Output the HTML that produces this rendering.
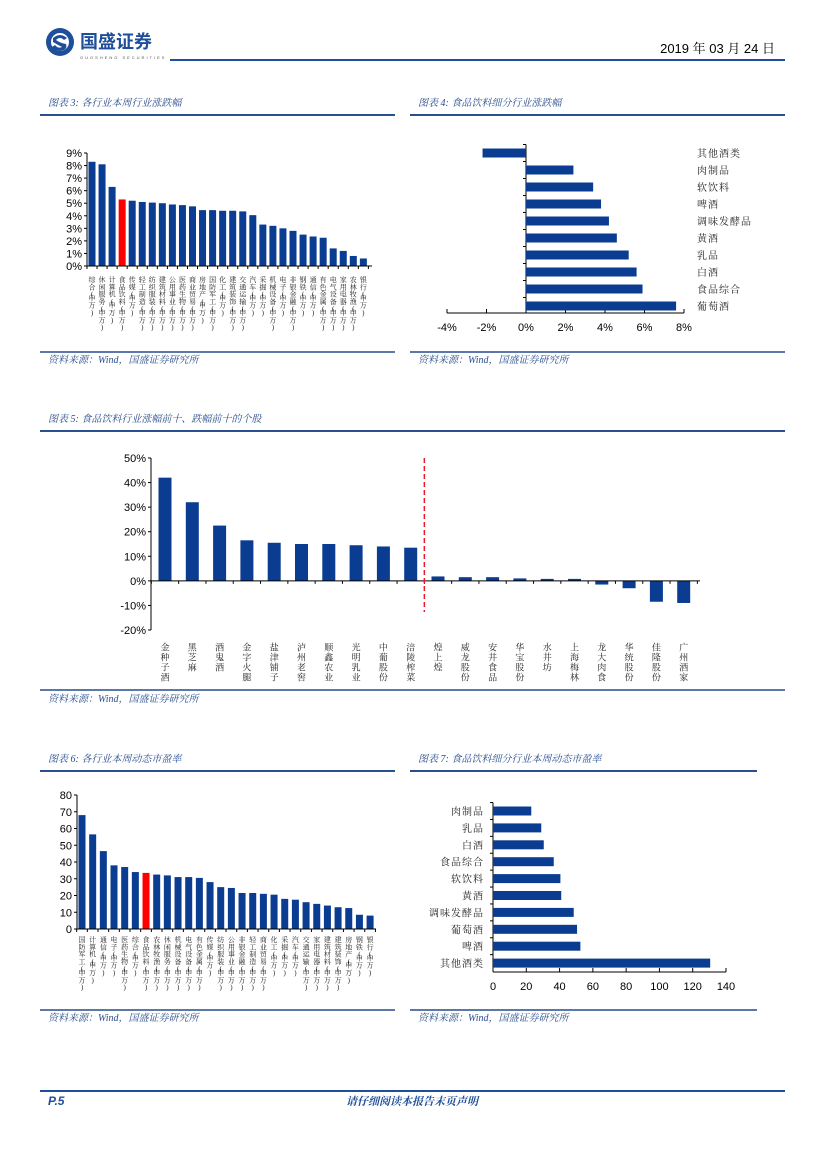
<!DOCTYPE html>
<html><head><meta charset="utf-8">
<style>
html,body{margin:0;padding:0;background:#fff;}
svg{display:block;font-family:"Liberation Sans","Noto Sans CJK SC",sans-serif;}
.cap{font-family:"Liberation Serif","Noto Serif CJK SC",serif;font-style:italic;fill:#2a4f8f;font-size:10px;}
.tick{font-size:11px;fill:#000;}
.cat{font-family:"Liberation Serif","Noto Serif CJK SC",serif;fill:#222;}
</style></head>
<body>
<svg id="page" width="827" height="1169" viewBox="0 0 827 1169" xmlns="http://www.w3.org/2000/svg">
  <g>
    <g>
      <circle cx="60" cy="42" r="14" fill="#1f4e9a"/>
      <circle cx="60" cy="42" r="9" fill="#fff"/>
      <path d="M53 38 Q60 32 67 38 L64 40 Q60 36 56 40 Q60 43 66 44 Q68 50 60 51 Q54 51 52 47 L55 45 Q58 49 62 47 Q58 45 53 42 Z" fill="#1f4e9a"/>
      <text x="80" y="48" font-size="18" font-weight="bold" fill="#1f4e9a" font-family="'Noto Sans CJK SC',sans-serif">国盛证券</text>
      <text x="80" y="59" font-size="4" fill="#555" letter-spacing="2">GUOSHENG SECURITIES</text>
    </g>
    <text x="775" y="53" text-anchor="end" font-size="13" fill="#000" font-family="'Liberation Sans','Noto Serif CJK SC',serif">2019 年 03 月 24 日</text>
    <rect x="170" y="59" width="615" height="2" fill="#1f4e9a"/>
  </g>

  <g>
    <text class="cap" x="48" y="106">图表 3:  各行业本周行业涨跌幅</text>
    <rect x="40" y="114" width="355" height="2" fill="#2a4f8f"/>
    <text class="cap" x="418" y="106">图表 4:  食品饮料细分行业涨跌幅</text>
    <rect x="410" y="114" width="375" height="2" fill="#2a4f8f"/>
    <rect x="40" y="351" width="355" height="2" fill="#5b78a6"/>
    <text class="cap" x="48" y="363">资料来源：Wind，国盛证券研究所</text>
    <rect x="410" y="351" width="375" height="2" fill="#5b78a6"/>
    <text class="cap" x="418" y="363">资料来源：Wind，国盛证券研究所</text>

    <text class="cap" x="48" y="422">图表 5:  食品饮料行业涨幅前十、跌幅前十的个股</text>
    <rect x="40" y="430" width="745" height="2" fill="#2a4f8f"/>
    <rect x="40" y="689" width="745" height="2" fill="#5b78a6"/>
    <text class="cap" x="48" y="702">资料来源：Wind，国盛证券研究所</text>

    <text class="cap" x="48" y="762">图表 6:  各行业本周动态市盈率</text>
    <rect x="40" y="770" width="355" height="2" fill="#2a4f8f"/>
    <text class="cap" x="418" y="762">图表 7:  食品饮料细分行业本周动态市盈率</text>
    <rect x="410" y="770" width="347" height="2" fill="#2a4f8f"/>
    <rect x="40" y="1009" width="355" height="2" fill="#5b78a6"/>
    <text class="cap" x="48" y="1021">资料来源：Wind，国盛证券研究所</text>
    <rect x="410" y="1009" width="347" height="2" fill="#5b78a6"/>
    <text class="cap" x="418" y="1021">资料来源：Wind，国盛证券研究所</text>
  </g>

  <g>
    <rect x="40" y="1090" width="745" height="2" fill="#1f4e9a"/>
    <text x="48" y="1105" font-size="12" font-weight="bold" font-style="italic" fill="#1f4e9a">P.5</text>
    <text x="412" y="1105" text-anchor="middle" font-size="11" font-weight="bold" font-style="italic" fill="#1f4e9a" font-family="'Noto Serif CJK SC',serif">请仔细阅读本报告末页声明</text>
  </g>

  <g id="c3"></g>
  <g id="c4"></g>
  <g id="c5"></g>
  <g id="c6"></g>
  <g id="c7"></g>
</svg>
<script>
// Chart 3 data
const c3Cats = ["综合(申万)","休闲服务(申万)","计算机(申万)","食品饮料(申万)","传媒(申万)","轻工制造(申万)","纺织服装(申万)","建筑材料(申万)","公用事业(申万)","医药生物(申万)","商业贸易(申万)","房地产(申万)","国防军工(申万)","化工(申万)","建筑装饰(申万)","交通运输(申万)","汽车(申万)","采掘(申万)","机械设备(申万)","电子(申万)","非银金融(申万)","钢铁(申万)","通信(申万)","有色金属(申万)","电气设备(申万)","家用电器(申万)","农林牧渔(申万)","银行(申万)"];
const c3Vals = [8.3,8.1,6.3,5.3,5.2,5.1,5.05,5.0,4.9,4.85,4.75,4.45,4.45,4.4,4.4,4.35,4.05,3.3,3.2,3.0,2.8,2.5,2.35,2.25,1.4,1.2,0.8,0.6];
const c3Ticks = [0,1,2,3,4,5,6,7,8,9];
// Chart 4 data
const c4Cats = ["其他酒类","肉制品","软饮料","啤酒","调味发酵品","黄酒","乳品","白酒","食品综合","葡萄酒"];
const c4Vals = [-2.2,2.4,3.4,3.8,4.2,4.6,5.2,5.6,5.9,7.6];
const c4Ticks = [-4,-2,0,2,4,6,8];
// Chart 5 data
const c5Cats = ["金种子酒","黑芝麻","酒鬼酒","金字火腿","盐津铺子","泸州老窖","顺鑫农业","光明乳业","中葡股份","涪陵榨菜","煌上煌","威龙股份","安井食品","华宝股份","水井坊","上海梅林","龙大肉食","华统股份","佳隆股份","广州酒家"];
const c5Vals = [42,32,22.5,16.5,15.5,15,15,14.5,14,13.5,1.8,1.5,1.5,1.0,0.8,0.8,-1.5,-3,-8.5,-9];
const c5Ticks = [-20,-10,0,10,20,30,40,50];
// Chart 6 data
const c6Cats = ["国防军工(申万)","计算机(申万)","通信(申万)","电子(申万)","医药生物(申万)","综合(申万)","食品饮料(申万)","农林牧渔(申万)","休闲服务(申万)","机械设备(申万)","电气设备(申万)","有色金属(申万)","传媒(申万)","纺织服装(申万)","公用事业(申万)","非银金融(申万)","轻工制造(申万)","商业贸易(申万)","化工(申万)","采掘(申万)","汽车(申万)","交通运输(申万)","家用电器(申万)","建筑材料(申万)","建筑装饰(申万)","房地产(申万)","钢铁(申万)","银行(申万)"];
const c6Vals = [68,56.5,46.5,38,37,34,33.5,32.5,32,31,31,30.5,28,25,24.5,21.5,21.5,21,20.5,18,17.5,16,15,14,13,12.5,8.5,8];
const c6Ticks = [0,10,20,30,40,50,60,70,80];
// Chart 7 data
const c7Cats = ["肉制品","乳品","白酒","食品综合","软饮料","黄酒","调味发酵品","葡萄酒","啤酒","其他酒类"];
const c7Vals = [23,29,30.5,36.5,40.5,41,48.5,50.5,52.5,130.5];
const c7Ticks = [0,20,40,60,80,100,120,140];

const NS="http://www.w3.org/2000/svg";
const BLUE="#0a3d91";
function mk(parent,tag,attrs,txt){const e=document.createElementNS(NS,tag);for(const k in attrs)e.setAttribute(k,attrs[k]);if(txt!==undefined)e.textContent=txt;parent.appendChild(e);return e;}

function vlabel(g,cx,y0,str,fs,step){
  const t=mk(g,'text',{class:'cat','font-size':fs,'text-anchor':'middle'});
  
  
  let yy=y0+fs*0.85;
  for(const ch of str){
    const sp=mk(t,'tspan',{x:cx,y:yy},ch);
    yy+=(ch==='('||ch===')')?fs*0.55:step;
  }
}

function columnChart(id,cats,vals,ticks,o){
  const g=document.getElementById(id);
  const y=v=>o.y0-(v-o.vmin)/(o.vmax-o.vmin)*(o.y0-o.y1);
  const x=i=>o.x0+i*o.pitch;
  const ax=mk(g,'line',{x1:o.axisX,y1:y(o.vmax),x2:o.axisX,y2:y(o.vmin),stroke:'#000','stroke-width':1});
  
  
  ticks.forEach(t=>{
    mk(g,'line',{x1:o.axisX-3,x2:o.axisX,y1:y(t),y2:y(t),stroke:'#000'});
    const tl=mk(g,'text',{x:o.axisX-5,y:y(t)+4,'text-anchor':'end',class:'tick'},t+o.suffix);
    
    
  });
  vals.forEach((v,i)=>{
    const top=Math.min(y(v),y(0)),h=Math.abs(y(v)-y(0));
    const b=mk(g,'rect',{x:x(i)-o.bw/2,y:top,width:o.bw,height:h,fill:(o.red===i?'#ff0000':BLUE)});
    
    
    vlabel(g,x(i),o.labelY,cats[i],o.lfs,o.step);
  });
  const base=mk(g,'line',{x1:o.axisX,x2:o.xEnd,y1:y(0),y2:y(0),stroke:'#000','stroke-width':1});
  
  
  for(let i=0;i<=vals.length;i++){mk(g,'line',{x1:x(i)-o.pitch/2,x2:x(i)-o.pitch/2,y1:y(0),y2:y(0)+3,stroke:'#000'});}
  return {x,y};
}

function barChart(id,cats,vals,ticks,o){
  const g=document.getElementById(id);
  const x=v=>o.x0+(v-o.vmin)/(o.vmax-o.vmin)*(o.x1-o.x0);
  const y=i=>o.yTop+i*o.pitch;
  const ax=mk(g,'line',{x1:x(o.vmin),x2:x(o.vmax),y1:o.axisY,y2:o.axisY,stroke:'#000'});
  
  
  ticks.forEach(t=>{
    mk(g,'line',{x1:x(t),x2:x(t),y1:o.axisY,y2:o.axisY-4,stroke:'#000'});
    const tl=mk(g,'text',{x:x(t),y:o.axisY+18,'text-anchor':'middle',class:'tick'},t+o.suffix);
    
    
  });
  const va=mk(g,'line',{x1:x(0),x2:x(0),y1:y(0)-o.pitch/2,y2:o.axisY,stroke:'#000'});
  
  
  vals.forEach((v,i)=>{
    const l=Math.min(x(v),x(0)),w=Math.abs(x(v)-x(0));
    const b=mk(g,'rect',{x:l,y:y(i)-o.bh/2,width:w,height:o.bh,fill:BLUE});
    
    
    mk(g,'line',{x1:x(0)-3,x2:x(0),y1:y(i)-o.pitch/2,y2:y(i)-o.pitch/2,stroke:'#000'});
    const lbl=mk(g,'text',{x:o.labelX,y:y(i)+4,'text-anchor':o.anchor,class:'cat','font-size':10,'letter-spacing':1},cats[i]);
    
    
  });
}

columnChart('c3',c3Cats,c3Vals,c3Ticks,{vmin:0,vmax:9,y0:266,y1:153,axisX:87,x0:92,pitch:10.05,bw:7,suffix:'%',labelY:276,lfs:7,step:7.3,red:3,xEnd:372});
barChart('c4',c4Cats,c4Vals,c4Ticks,{vmin:-4,vmax:8,x0:447,x1:684,yTop:153,pitch:17,bh:9,axisY:313,suffix:'%',labelX:697,anchor:'start'});
const c5=columnChart('c5',c5Cats,c5Vals,c5Ticks,{vmin:-20,vmax:50,y0:630,y1:458,axisX:151,x0:165,pitch:27.3,bw:13,suffix:'%',labelY:643,lfs:9,step:10,xEnd:700});
(function(){const g=document.getElementById('c5');const lx=(c5.x(9)+c5.x(10))/2;
 const dl=mk(g,'line',{x1:lx,x2:lx,y1:458,y2:612,stroke:'#e8192c','stroke-width':1.5,'stroke-dasharray':'5,3'});
 
 })();
columnChart('c6',c6Cats,c6Vals,c6Ticks,{vmin:0,vmax:80,y0:929,y1:795,axisX:77,x0:82,pitch:10.67,bw:7,suffix:'',labelY:936,lfs:7,step:7.3,red:6,xEnd:376});
barChart('c7',c7Cats,c7Vals,c7Ticks,{vmin:0,vmax:140,x0:493,x1:726,yTop:811,pitch:16.9,bh:9,axisY:972,suffix:'',labelX:484,anchor:'end'});
</script>
</body></html>
